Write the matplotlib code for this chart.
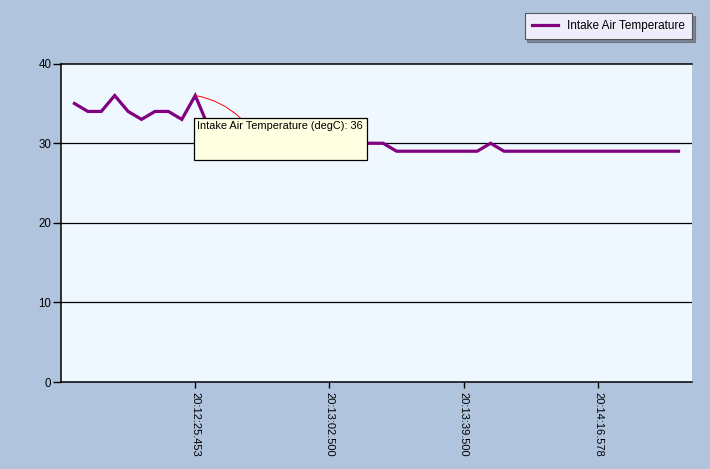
import matplotlib
matplotlib.use("Agg")
import matplotlib.pyplot as plt
from matplotlib.patches import Rectangle

# samples (one every ~3.7 s)
temps = [35, 34, 34, 36, 34, 33, 34, 34, 33, 36,
         32, 31, 31, 30, 31, 30, 30, 30, 30, 30,
         30, 30, 30, 30, 29, 29, 29, 29, 29, 29,
         29, 30, 29, 29, 29, 29, 29, 29, 29, 29,
         29, 29, 29, 29, 29, 29]
tick_idx = [9, 19, 29, 39]
tick_labels = ["20:12:25.453", "20:13:02.500", "20:13:39.500", "20:14:16.578"]
y_ticks = [0, 10, 20, 30, 40]

series_name = "Intake Air Temperature"
tip_idx = 9

BG = "#B0C4DE"
PLOT_BG = "#F0F8FF"
PURPLE = "#800080"

plt.rcParams["font.family"] = ["Liberation Sans", "DejaVu Sans"]

fig = plt.figure(figsize=(7.1, 4.69), dpi=100, facecolor=BG)
ax = fig.add_axes([0.0859, 0.1855, 0.8887, 0.6787], facecolor=PLOT_BG)

x = list(range(len(temps)))
line, = ax.plot(x, temps, color=PURPLE, lw=2.3, solid_joinstyle="miter",
                label=series_name, zorder=3)

ax.set_xlim(-1, 46)
ax.set_ylim(0, 40)
ax.set_yticks(y_ticks)
ax.set_xticks(tick_idx)
ax.set_xticklabels(tick_labels, rotation=270, va="top", ha="center")
ax.tick_params(axis="y", length=6, width=1, color="black", labelsize=8.3, pad=1)
ax.tick_params(axis="x", length=4, width=1, color="black", labelsize=8.0, pad=3)
for g in y_ticks[1:-1]:
    ax.axhline(g, color="black", lw=0.9, zorder=1)

ax.spines["right"].set_visible(False)
for s in ["top", "left", "bottom"]:
    ax.spines[s].set_linewidth(1.1)
    ax.spines[s].set_color("black")

# tooltip on the peak
ax.annotate("", xy=(tip_idx, temps[tip_idx]), xytext=(12.35, 33.2),
            arrowprops=dict(arrowstyle="-", color="red", lw=0.7,
                            connectionstyle="arc3,rad=0.15", shrinkA=0, shrinkB=0),
            zorder=4)
ax.add_patch(Rectangle((8.9, 27.9), 12.9, 5.3, facecolor="#FFFFE1",
                       edgecolor="black", lw=0.9, zorder=5))
ax.text(9.1, 32.8, f"{series_name} (degC): {temps[tip_idx]}", fontsize=7.9,
        va="top", ha="left", zorder=6)

leg = fig.legend(handles=[line], loc="upper right", bbox_to_anchor=(0.9746, 0.972),
                 borderaxespad=0, frameon=True, fancybox=False, shadow=True,
                 fontsize=8.5, handlelength=2.2, borderpad=0.6)
leg.get_frame().set_facecolor("#EEEEFA")
leg.get_frame().set_edgecolor("#555555")
leg.get_frame().set_linewidth(0.8)

fig.savefig("out.png", dpi=100, facecolor=BG)
